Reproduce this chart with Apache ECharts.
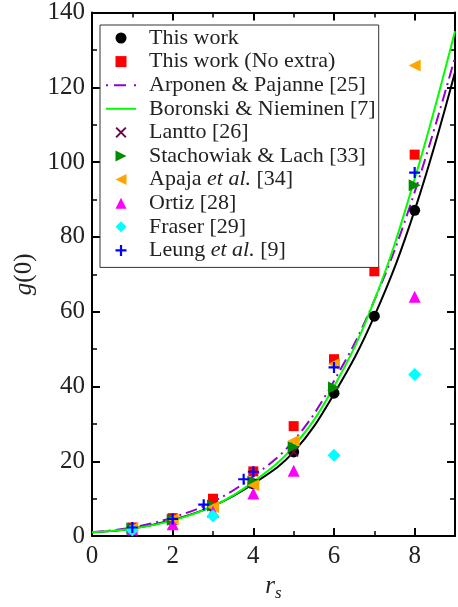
<!DOCTYPE html>
<html><head><meta charset="utf-8">
<script src="https://cdn.jsdelivr.net/npm/echarts@6/dist/echarts.min.js"></script>
<style>html,body{margin:0;padding:0;background:#fff}#c{width:458px;height:607px}</style>
</head><body><div id="c"></div>
<script>
// ---- data ----
const xTicks = [0, 2, 4, 6, 8];
const yTicks = [0, 20, 40, 60, 80, 100, 120, 140];

const thisWork      = [[1,2.0],[2,4.3],[3,8.0],[4,14.0],[5,22.5],[6,38.2],[7,58.8],[8,87.1]];
const thisWorkCurve = [[0,1.0],[1,2.0],[2,4.3],[3,8.0],[4,14.0],[5,22.5],[6,38.0],[7,58.8],[8,87.1],[9,124]];
const noExtra       = [[1,2.3],[2,4.8],[3,10.0],[4,17.3],[5,29.4],[6,47.3],[7,70.8],[8,102.0]];
const arponen       = [[0,1.0],[1,2.3],[2,5.0],[3,9.2],[4,16.0],[5,25.5],[6,41.5],[7,63],[8,92],[9,128]];
const boronski      = [[0,1.0],[1,2.0],[2,4.2],[3,8.0],[4,14.5],[5,24.0],[6,40.0],[7,63],[8,95.5],[9,135]];
const lantto        = [[1,2.0],[2,4.3],[3,8.0],[4,14.0],[5,22.5]];
const stachowiak    = [[1,2.0],[2,4.4],[3,8.2],[4,14.5],[5,23.8],[6,39.7],[8,93.8]];
const apaja         = [[1,2.1],[2,4.5],[3,7.8],[4,13.6],[5,25.5],[6,46.0],[8,125.8]];
const ortiz         = [[1,1.8],[2,3.2],[3,6.5],[4,11.4],[5,17.5],[8,64.0]];
const fraser        = [[1,1.6],[3,5.4],[6,21.6],[8,43.2]];
const leung         = [[1,2.3],[2,4.6],[2.77,8.4],[3.76,15.2],[4,17.2],[6,45.1],[8,97.2]];

const names = ['This work','This work (No extra)','Arponen & Pajanne [25]','Boronski & Nieminen [7]',
  'Lantto [26]','Stachowiak & Lach [33]','Apaja et al. [34]','Ortiz [28]','Fraser [29]','Leung et al. [9]'];

const FONT = 'Liberation Serif';
const chart = echarts.init(document.getElementById('c'), null, {renderer:'canvas'});

const plusPath = 'path://M4,0H6V4H10V6H6V10H4V6H0V4H4Z';
const xPath = 'path://M1.2,0L5,3.8L8.8,0L10,1.2L6.2,5L10,8.8L8.8,10L5,6.2L1.2,10L0,8.8L3.8,5L0,1.2Z';
const rightTri = 'path://M0,0L10,5L0,10Z';
const leftTri = 'path://M10,0L0,5L10,10Z';
const rectPath = 'path://M0,0H10V10H0Z';
const upTri = 'path://M5,0L10,10L0,10Z';
const diamondPath = 'path://M5,0L10,5L5,10L0,5Z';
const solidLineIcon = 'path://M0,0H30V2H0Z';
const dashDotIcon = 'path://M0,0H2V2H0Z M8,0H20V2H8Z M28,0H30V2H28Z';

const legendIcons = ['circle', rectPath, dashDotIcon, solidLineIcon, xPath, rightTri, leftTri, upTri, diamondPath, plusPath];

function sc(name, data, symbol, color, size, z){
  return {type:'scatter', name, data, symbol, symbolSize:size, symbolKeepAspect:true,
    itemStyle:{color, opacity:1}, z: z, emphasis:{disabled:true}};
}

const axisCommon = {
  axisLine:{show:true, onZero:false, lineStyle:{color:'#000', width:2}},
  splitLine:{show:false}
};

chart.setOption({
  animation:false,
  backgroundColor:'#fff',
  grid:{left:92, right:-4, top:11, bottom:55, containLabel:false},
  xAxis:[
    Object.assign({type:'value', min:0, max:9, interval:2, position:'bottom',
      axisTick:{show:true, inside:true, length:8, lineStyle:{color:'#000', width:2}},
      minorTick:{show:true, splitNumber:2, length:5, lineStyle:{color:'#000', width:1.5}},
      axisLabel:{show:true, fontFamily:FONT, fontSize:25, color:'#222', margin:8,
        formatter:v => xTicks.includes(v) ? String(v) : ''},
      name:'{i|r}{s|s}', nameLocation:'middle', nameGap:28,
      nameTextStyle:{rich:{i:{fontFamily:FONT, fontStyle:'italic', fontSize:25, color:'#222'},
        s:{fontFamily:FONT, fontStyle:'italic', fontSize:17, color:'#222', verticalAlign:'bottom', padding:[14,0,0,0]}}}
    }, axisCommon),
    Object.assign({type:'value', min:0, max:9, interval:2, position:'top',
      axisTick:{show:true, inside:true, length:8, lineStyle:{color:'#000', width:2}},
      minorTick:{show:true, splitNumber:2, length:5, lineStyle:{color:'#000', width:1.5}},
      axisLabel:{show:false}}, axisCommon)
  ],
  yAxis:[
    Object.assign({type:'value', min:0, max:140, interval:20, position:'left',
      axisTick:{show:true, inside:true, length:8, lineStyle:{color:'#000', width:2}},
      minorTick:{show:true, splitNumber:2, length:5, lineStyle:{color:'#000', width:1.5}},
      axisLabel:{show:true, fontFamily:FONT, fontSize:25, color:'#222', margin:7,
        formatter:v => yTicks.includes(v) ? String(v) : ''},
      name:'{i|g}{n|(0)}', nameLocation:'middle', nameGap:37, nameRotate:90,
      nameTextStyle:{rich:{i:{fontFamily:FONT, fontStyle:'italic', fontSize:25, color:'#222'},
        n:{fontFamily:FONT, fontSize:25, color:'#222'}}}
    }, axisCommon),
    Object.assign({type:'value', min:0, max:140, interval:20, position:'right',
      axisTick:{show:true, inside:true, length:8, lineStyle:{color:'#000', width:2}},
      minorTick:{show:true, splitNumber:2, length:5, lineStyle:{color:'#000', width:1.5}},
      axisLabel:{show:false}}, axisCommon)
  ],
  legend:{
    show:true, orient:'vertical', left:100, top:25,
    data:names.map((n, i) => ({name:n, icon:legendIcons[i]})),
    itemWidth:30, itemHeight:11, itemGap:1.6, symbolKeepAspect:true,
    padding:[2,3,6,6],
    borderColor:'#333', borderWidth:1, backgroundColor:'#fff',
    selectedMode:false,
    textStyle:{fontFamily:FONT, fontSize:22, color:'#222', lineHeight:22, padding:[0,0,0,8],
      rich:{n:{fontFamily:FONT, fontSize:22, color:'#222', lineHeight:22},
            i:{fontFamily:FONT, fontSize:22, fontStyle:'italic', color:'#222', lineHeight:22}}},
    formatter: function(name){
      if (name.indexOf('et al.') >= 0){
        const p = name.split('et al.');
        return '{n|' + p[0] + '}{i|et al.}{n|' + p[1] + '}';
      }
      return '{n|' + name + '}';
    }
  },
  series:[
    {type:'line', name:'thisWorkCurve', data:thisWorkCurve, smooth:0.4, symbol:'none', showSymbol:false,
      lineStyle:{color:'#000', width:2}, z:2, silent:true},
    {type:'line', name:names[2], data:arponen, smooth:0.4, symbol:'none', showSymbol:false,
      itemStyle:{color:'#9400d3'},
      lineStyle:{color:'#9400d3', width:2, type:[12,5,2,5]}, z:2, silent:true},
    {type:'line', name:names[3], data:boronski, smooth:0.4, symbol:'none', showSymbol:false,
      itemStyle:{color:'#00ff00'},
      lineStyle:{color:'#00ff00', width:2}, z:2, silent:true},
    sc(names[0], thisWork, 'circle', '#000', 11, 3),
    sc(names[1], noExtra, 'rect', '#ff0000', 10, 3),
    sc(names[4], lantto, xPath, '#670748', 10, 4),
    sc(names[5], stachowiak, rightTri, '#008b00', 12, 4),
    sc(names[6], apaja, leftTri, '#ffa500', 12, 4),
    sc(names[7], ortiz, 'triangle', '#ff00ff', 12, 4),
    sc(names[8], fraser, 'diamond', '#00ffff', 13, 4),
    sc(names[9], leung, plusPath, '#0000ff', 11, 4)
  ]
});
</script>
</body></html>
